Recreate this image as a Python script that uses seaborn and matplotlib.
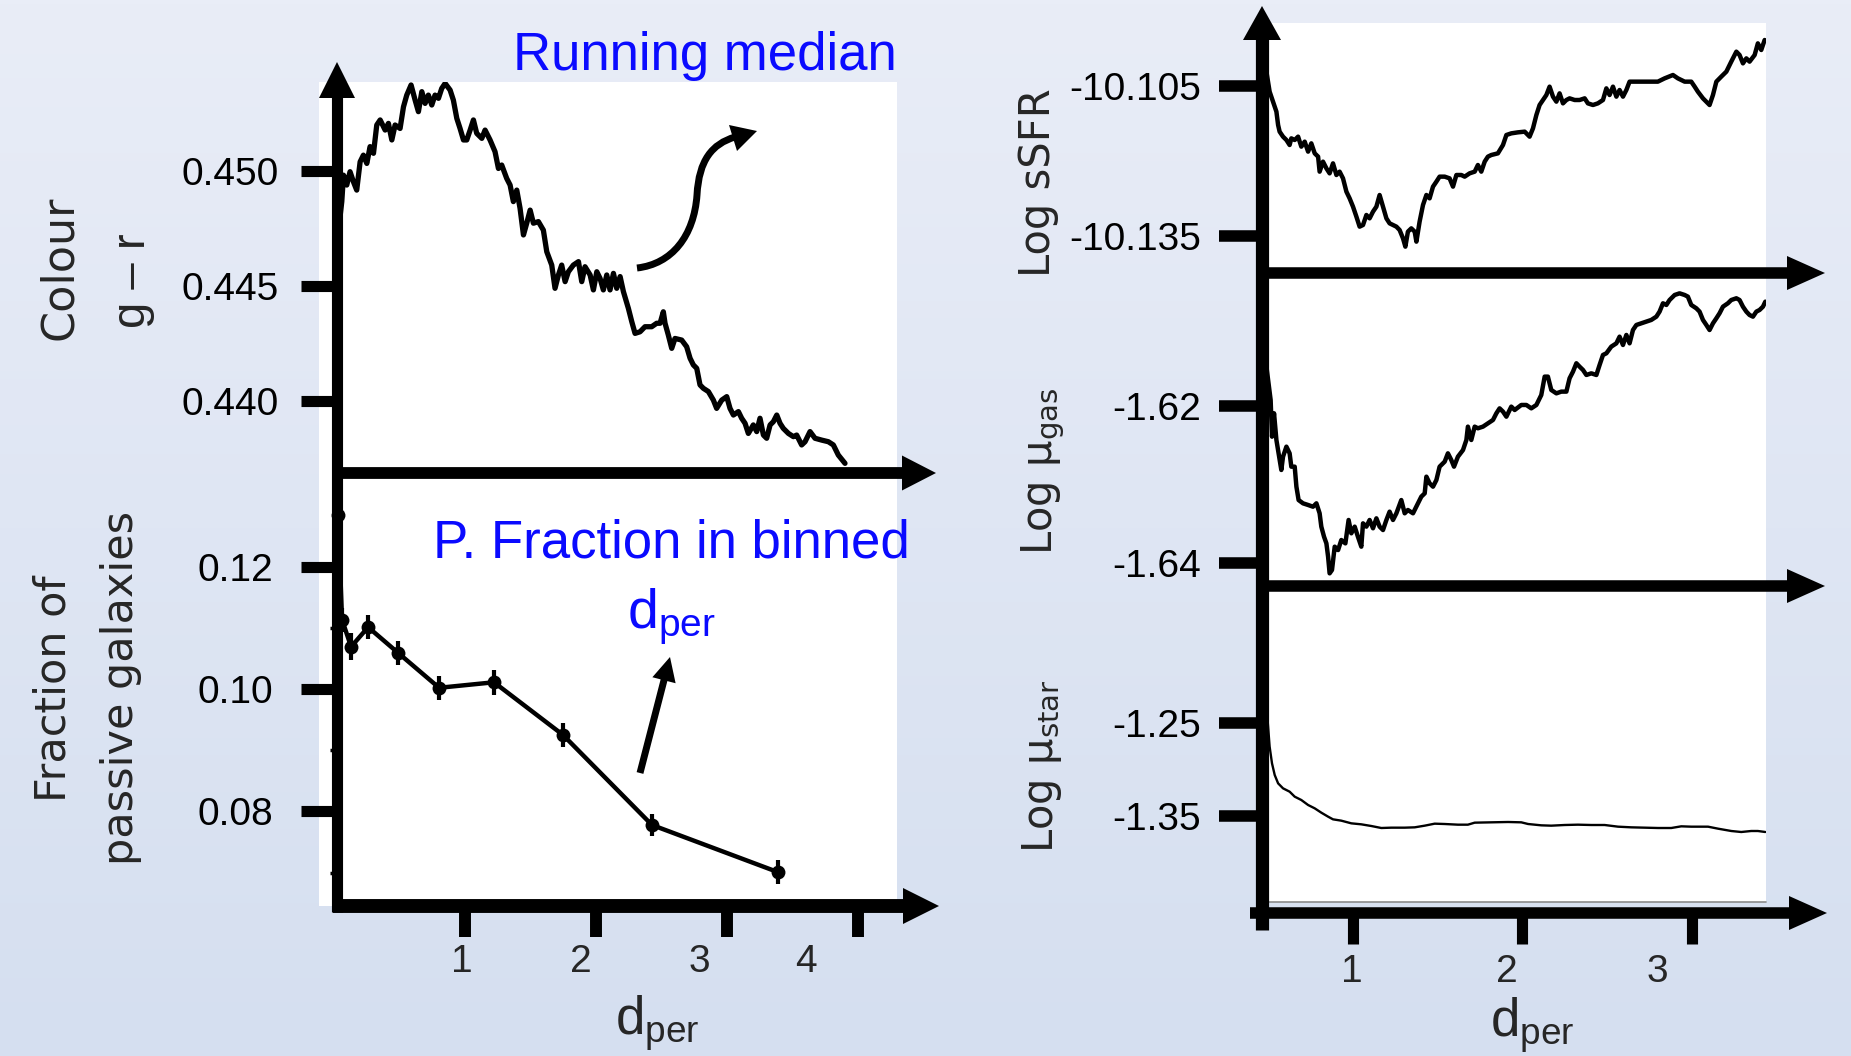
import numpy as np
import matplotlib
matplotlib.use("Agg")
import matplotlib.pyplot as plt
import seaborn as sns
from matplotlib.colors import LinearSegmentedColormap
from matplotlib.lines import Line2D
from matplotlib.patches import Polygon, PathPatch
from matplotlib.path import Path

# ---------------- data ----------------
# running median of g-r colour vs d_per
colour_x = [0.035, 0.059, 0.072, 0.097, 0.122, 0.148, 0.173, 0.199, 0.224, 0.250, 0.275, 0.301,
            0.326, 0.352, 0.390, 0.415, 0.441, 0.466, 0.504, 0.530, 0.555, 0.588, 0.619,
            0.644, 0.670, 0.695, 0.720, 0.746, 0.771, 0.797, 0.822, 0.848, 0.886, 0.911,
            0.937, 0.962, 0.988, 1.013, 1.039, 1.064, 1.089, 1.128, 1.153, 1.191, 1.229,
            1.255, 1.280, 1.318, 1.344, 1.369, 1.395, 1.420, 1.446, 1.471, 1.497, 1.522,
            1.560, 1.598, 1.624, 1.662, 1.687, 1.713, 1.738, 1.764, 1.789, 1.827, 1.866,
            1.891, 1.916, 1.955, 1.980, 2.006, 2.031, 2.056, 2.082, 2.107, 2.133, 2.158,
            2.184, 2.209, 2.247, 2.273, 2.298, 2.336, 2.374, 2.425, 2.463, 2.489, 2.514,
            2.527, 2.552, 2.578, 2.603, 2.654, 2.692, 2.718, 2.743, 2.769, 2.794, 2.820,
            2.858, 2.896, 2.921, 2.960, 2.998, 3.023, 3.049, 3.087, 3.112, 3.138, 3.163,
            3.201, 3.227, 3.252, 3.278, 3.303, 3.329, 3.354, 3.380, 3.405, 3.430, 3.469,
            3.507, 3.532, 3.570, 3.596, 3.634, 3.672, 3.723, 3.774, 3.812, 3.850, 3.901]
colour_y = [0.44745, 0.44865, 0.44980, 0.44937, 0.44995, 0.44951, 0.44915, 0.45038, 0.45067, 0.45031,
            0.45104, 0.45075, 0.45198, 0.45220, 0.45176, 0.45205, 0.45133, 0.45198, 0.45183,
            0.45277, 0.45328, 0.45372, 0.45306, 0.45256, 0.45343, 0.45292, 0.45328, 0.45285,
            0.45328, 0.45314, 0.45357, 0.45379, 0.45350, 0.45306, 0.45227, 0.45183, 0.45133,
            0.45133, 0.45176, 0.45220, 0.45162, 0.45140, 0.45176, 0.45133, 0.45082, 0.45009,
            0.45024, 0.44966, 0.44937, 0.44865, 0.44915, 0.44836, 0.44720, 0.44771, 0.44828,
            0.44771, 0.44778, 0.44741, 0.44647, 0.44589, 0.44488, 0.44546, 0.44589, 0.44517,
            0.44560, 0.44589, 0.44604, 0.44517, 0.44582, 0.44546, 0.44481, 0.44560, 0.44531,
            0.44481, 0.44546, 0.44481, 0.44553, 0.44488, 0.44539, 0.44474, 0.44401, 0.44343,
            0.44292, 0.44299, 0.44321, 0.44321, 0.44336, 0.44336, 0.44386, 0.44336, 0.44285,
            0.44227, 0.44270, 0.44263, 0.44234, 0.44184, 0.44155, 0.44140, 0.44068, 0.44053,
            0.44039, 0.44002, 0.43966, 0.44002, 0.44017, 0.43966, 0.43937, 0.43952, 0.43923,
            0.43901, 0.43857, 0.43894, 0.43865, 0.43923, 0.43850, 0.43836, 0.43894, 0.43908,
            0.43937, 0.43901, 0.43879, 0.43857, 0.43843, 0.43850, 0.43807, 0.43821, 0.43865,
            0.43836, 0.43828, 0.43821, 0.43807, 0.43763, 0.43727]
colour_ticks = [0.440, 0.445, 0.450]

# fraction of passive galaxies in d_per bins
frac_x = [0.031, 0.061, 0.130, 0.260, 0.489, 0.802, 1.221, 1.748, 2.427, 3.389]
frac_y = [0.1284, 0.1113, 0.1069, 0.1101, 0.1059, 0.1002, 0.1011, 0.0925, 0.0778, 0.0701]
frac_err = [0.0015, 0.0020, 0.0022, 0.0020, 0.0020, 0.0020, 0.0020, 0.0020, 0.0018, 0.0020]
frac_ticks = [0.08, 0.10, 0.12]
frac_minor = [0.07, 0.09, 0.11]

# log sSFR running median
ssfr_x = [0.489, 0.508, 0.528, 0.548, 0.558, 0.567, 0.587, 0.607, 0.626, 0.636, 0.656, 0.676,
          0.695, 0.715, 0.735, 0.754, 0.774, 0.794, 0.803, 0.823, 0.843, 0.862, 0.882, 0.902,
          0.921, 0.941, 0.961, 0.980, 1.000, 1.020, 1.039, 1.059, 1.079, 1.098, 1.118, 1.138,
          1.157, 1.177, 1.197, 1.216, 1.236, 1.256, 1.275, 1.295, 1.309, 1.324, 1.344, 1.364,
          1.374, 1.393, 1.413, 1.433, 1.452, 1.472, 1.492, 1.511, 1.541, 1.570, 1.590, 1.610,
          1.639, 1.659, 1.688, 1.718, 1.737, 1.757, 1.777, 1.796, 1.816, 1.855, 1.885, 1.905,
          1.934, 1.973, 2.013, 2.042, 2.062, 2.082, 2.101, 2.121, 2.141, 2.160, 2.180, 2.200,
          2.219, 2.239, 2.259, 2.278, 2.308, 2.337, 2.367, 2.386, 2.416, 2.445, 2.475, 2.495,
          2.514, 2.534, 2.554, 2.573, 2.593, 2.613, 2.632, 2.681, 2.740, 2.799, 2.839, 2.888,
          2.917, 2.957, 2.996, 3.016, 3.035, 3.065, 3.104, 3.124, 3.144, 3.173, 3.203, 3.232,
          3.262, 3.281, 3.301, 3.321, 3.340, 3.370, 3.389, 3.409, 3.429]
ssfr_y = [-10.10213, -10.10613, -10.10813, -10.11013, -10.11280, -10.11413, -10.11513, -10.11580,
          -10.11680, -10.11547, -10.11580, -10.11513, -10.11713, -10.11613, -10.11813, -10.11647,
          -10.11847, -10.11913, -10.12213, -10.12013, -10.12147, -10.12247, -10.12047, -10.12280,
          -10.12213, -10.12347, -10.12613, -10.12747, -10.12913, -10.13113, -10.13313, -10.13280,
          -10.13080, -10.13147, -10.13013, -10.12913, -10.12680, -10.12913, -10.13147, -10.13247,
          -10.13280, -10.13313, -10.13380, -10.13547, -10.13713, -10.13413, -10.13347, -10.13413,
          -10.13613, -10.13213, -10.12880, -10.12680, -10.12747, -10.12513, -10.12413, -10.12313,
          -10.12313, -10.12347, -10.12513, -10.12280, -10.12280, -10.12313, -10.12247, -10.12213,
          -10.12080, -10.12213, -10.12013, -10.11913, -10.11880, -10.11847, -10.11680, -10.11480,
          -10.11447, -10.11427, -10.11413, -10.11513, -10.11347, -10.11080, -10.10880, -10.10780,
          -10.10680, -10.10513, -10.10713, -10.10813, -10.10647, -10.10847, -10.10780, -10.10747,
          -10.10780, -10.10780, -10.10747, -10.10847, -10.10880, -10.10847, -10.10780, -10.10547,
          -10.10680, -10.10513, -10.10713, -10.10580, -10.10713, -10.10580, -10.10413, -10.10413,
          -10.10413, -10.10413, -10.10347, -10.10280, -10.10347, -10.10413, -10.10413, -10.10513,
          -10.10613, -10.10747, -10.10880, -10.10680, -10.10413, -10.10313, -10.10213, -10.10013,
          -10.09813, -10.09880, -10.10047, -10.09947, -10.10013, -10.09880, -10.09647, -10.09780,
          -10.09580]
ssfr_ticks = [-10.135, -10.105]
ssfr_labels = ["-10.135", "-10.105"]

# log mu_gas running median
gas_x = [0.483, 0.499, 0.514, 0.522, 0.534, 0.548, 0.561, 0.577, 0.587, 0.607, 0.626, 0.636,
         0.656, 0.666, 0.679, 0.705, 0.735, 0.764, 0.784, 0.803, 0.813, 0.829, 0.843, 0.853,
         0.862, 0.876, 0.892, 0.912, 0.931, 0.955, 0.974, 0.990, 1.010, 1.029, 1.049, 1.059,
         1.079, 1.098, 1.118, 1.138, 1.157, 1.177, 1.197, 1.216, 1.236, 1.256, 1.285, 1.305,
         1.324, 1.354, 1.383, 1.403, 1.423, 1.433, 1.452, 1.472, 1.492, 1.511, 1.541, 1.560,
         1.580, 1.596, 1.619, 1.649, 1.669, 1.678, 1.698, 1.718, 1.737, 1.767, 1.796, 1.826,
         1.846, 1.865, 1.885, 1.905, 1.934, 1.954, 1.993, 2.023, 2.052, 2.082, 2.111, 2.131,
         2.150, 2.170, 2.200, 2.229, 2.259, 2.278, 2.298, 2.318, 2.337, 2.357, 2.377, 2.406,
         2.436, 2.455, 2.475, 2.495, 2.524, 2.554, 2.573, 2.593, 2.613, 2.632, 2.652, 2.672,
         2.701, 2.731, 2.760, 2.790, 2.809, 2.829, 2.849, 2.868, 2.898, 2.927, 2.957, 2.976,
         2.996, 3.026, 3.045, 3.065, 3.085, 3.104, 3.124, 3.144, 3.163, 3.183, 3.212, 3.232,
         3.262, 3.281, 3.301, 3.321, 3.340, 3.360, 3.380, 3.399, 3.419, 3.433]
gas_y = [-1.61393, -1.61669, -1.61924, -1.62391, -1.62093, -1.62433, -1.62603, -1.62815, -1.62646,
         -1.62518, -1.62603, -1.62773, -1.62773, -1.63028, -1.63198, -1.63240, -1.63261, -1.63283,
         -1.63240, -1.63367, -1.63537, -1.63665, -1.63750, -1.63920, -1.64132, -1.64089, -1.63792,
         -1.63835, -1.63707, -1.63750, -1.63452, -1.63622, -1.63537, -1.63665, -1.63792, -1.63495,
         -1.63537, -1.63452, -1.63558, -1.63431, -1.63537, -1.63580, -1.63452, -1.63346, -1.63452,
         -1.63367, -1.63198, -1.63367, -1.63325, -1.63367, -1.63240, -1.63155, -1.63113, -1.62900,
         -1.62985, -1.63028, -1.62943, -1.62773, -1.62709, -1.62603, -1.62688, -1.62773, -1.62646,
         -1.62561, -1.62433, -1.62263, -1.62433, -1.62263, -1.62284, -1.62263, -1.62221, -1.62178,
         -1.62093, -1.62030, -1.62072, -1.62136, -1.62008, -1.62051, -1.61987, -1.61987, -1.62030,
         -1.61987, -1.61860, -1.61626, -1.61626, -1.61796, -1.61839, -1.61817, -1.61817, -1.61647,
         -1.61563, -1.61456, -1.61499, -1.61541, -1.61605, -1.61584, -1.61605, -1.61478, -1.61350,
         -1.61329, -1.61244, -1.61202, -1.61117, -1.61223, -1.61095, -1.61202, -1.61032, -1.60968,
         -1.60947, -1.60926, -1.60904, -1.60862, -1.60798, -1.60692, -1.60713, -1.60650, -1.60586,
         -1.60565, -1.60586, -1.60607, -1.60713, -1.60756, -1.60798, -1.60904, -1.60968, -1.61032,
         -1.60947, -1.60883, -1.60819, -1.60735, -1.60692, -1.60650, -1.60628, -1.60650, -1.60735,
         -1.60798, -1.60841, -1.60862, -1.60798, -1.60777, -1.60735, -1.60671]
gas_ticks = [-1.64, -1.62]
gas_labels = ["-1.64", "-1.62"]

# log mu_star running median
star_x = [0.489, 0.499, 0.508, 0.522, 0.538, 0.558, 0.587, 0.626, 0.656, 0.695, 0.735, 0.774,
          0.813, 0.853, 0.882, 0.931, 0.990, 1.049, 1.108, 1.167, 1.226, 1.305, 1.364, 1.423,
          1.482, 1.541, 1.619, 1.678, 1.718, 1.816, 1.915, 1.993, 2.033, 2.111, 2.170, 2.249,
          2.327, 2.406, 2.485, 2.564, 2.642, 2.721, 2.800, 2.878, 2.937, 2.996, 3.095, 3.154,
          3.232, 3.291, 3.350, 3.389, 3.433]
star_y = [-1.23064, -1.25395, -1.27545, -1.29337, -1.30592, -1.31488, -1.32025, -1.32384, -1.32922,
          -1.33280, -1.33817, -1.34176, -1.34642, -1.35072, -1.35359, -1.35502, -1.35789, -1.35896,
          -1.36076, -1.36291, -1.36255, -1.36255, -1.36219, -1.36040, -1.35825, -1.35861, -1.35933,
          -1.35933, -1.35717, -1.35681, -1.35645, -1.35681, -1.35861, -1.36004, -1.36040, -1.35968,
          -1.35933, -1.35968, -1.35968, -1.36148, -1.36219, -1.36255, -1.36291, -1.36291, -1.36111,
          -1.36148, -1.36148, -1.36363, -1.36613, -1.36721, -1.36613, -1.36613, -1.36721]
star_ticks = [-1.35, -1.25]
star_labels = ["-1.35", "-1.25"]

left_xtick_labels = ["1", "2", "3", "4"]
right_xtick_labels = ["1", "2", "3"]

# ---------------- figure ----------------
sns.set_theme(style="white")
plt.rcParams["font.family"] = ["Liberation Sans", "DejaVu Sans"]
plt.rcParams["mathtext.default"] = "regular"

W, H = 1851, 1056
fig = plt.figure(figsize=(W / 100, H / 100), dpi=100)
BLUE = "#0a0aff"
SANS = ["Liberation Sans", "DejaVu Sans"]
ROUND = ["DejaVu Sans"]


def P(x, y):
    # pixel position (origin top-left) -> figure fraction
    return x / W, 1 - y / H


def axes_at(x0, y0, x1, y1):
    return fig.add_axes([x0 / W, 1 - y1 / H, (x1 - x0) / W, (y1 - y0) / H])


def arrow(x0, y0, x1, y1, lw, hl, hw):
    # thick axis line with a filled triangular head, in pixels
    L = np.hypot(x1 - x0, y1 - y0)
    ux, uy = (x1 - x0) / L, (y1 - y0) / L
    bx, by = x1 - ux * hl, y1 - uy * hl
    a, b = P(x0, y0), P(bx + ux * 3, by + uy * 3)
    fig.add_artist(Line2D([a[0], b[0]], [a[1], b[1]], transform=fig.transFigure,
                          lw=lw, color="black", solid_capstyle="butt", zorder=5))
    px, py = -uy, ux
    tri = [P(x1, y1), P(bx + px * hw / 2, by + py * hw / 2), P(bx - px * hw / 2, by - py * hw / 2)]
    fig.add_artist(Polygon(tri, closed=True, transform=fig.transFigure,
                           facecolor="black", edgecolor="none", zorder=5))


def style_axes(ax):
    for s in ax.spines.values():
        s.set_visible(False)
    ax.set_xlabel("")
    ax.set_ylabel("")
    ax.set_facecolor("white")


# background gradient
bg = fig.add_axes([0, 0, 1, 1])
bg.set_zorder(-10)
grad = np.linspace(0, 1, 256).reshape(-1, 1)
bg.imshow(grad, aspect="auto", extent=[0, 1, 0, 1],
          cmap=LinearSegmentedColormap.from_list("bg", ["#e9edf7", "#d5dff0"]))
bg.axis("off")

# ---- top left: colour running median ----
ax_c = axes_at(319, 82, 897, 473)
sns.lineplot(x=colour_x, y=colour_y, ax=ax_c, color="black", linewidth=3.8,
             sort=False, estimator=None)
style_axes(ax_c)
ax_c.set_xlim(-0.115, 4.298)
ax_c.set_ylim(0.43685, 0.45385)
ax_c.spines["left"].set_position(("data", 0.023))
ax_c.set_yticks(colour_ticks)
ax_c.set_yticklabels(["0.440", "0.445", "0.450"])
ax_c.tick_params(axis="y", left=True, direction="out", length=26, width=8, pad=16,
                 labelsize=28, color="black", labelcolor="black")
ax_c.set_xticks([1, 2, 3, 4])
ax_c.set_xticklabels([])
ax_c.tick_params(axis="x", bottom=True, direction="out", length=9, width=2.5, color="black")

# ---- bottom left: passive fraction ----
ax_f = axes_at(319, 473, 897, 906)
sns.lineplot(x=frac_x, y=frac_y, ax=ax_f, color="black", linewidth=3.2, marker="o",
             markersize=10, markeredgewidth=0, sort=False, estimator=None)
ax_f.errorbar(frac_x, frac_y, yerr=frac_err, fmt="none", ecolor="black", elinewidth=3, capsize=0)
style_axes(ax_f)
ax_f.set_xlim(-0.115, 4.298)
ax_f.set_ylim(0.06457, 0.13527)
ax_f.spines["left"].set_position(("data", 0.023))
ax_f.set_yticks(frac_ticks)
ax_f.set_yticklabels(["0.08", "0.10", "0.12"])
ax_f.set_yticks(frac_minor, minor=True)
ax_f.tick_params(axis="y", which="major", left=True, direction="out", length=26, width=8,
                 pad=20, labelsize=28, color="black", labelcolor="black")
ax_f.tick_params(axis="y", which="minor", left=True, direction="out", length=5, width=2.5,
                 color="black")
ax_f.set_xticks([1, 2, 3, 4])
ax_f.set_xticklabels([])
ax_f.tick_params(axis="x", bottom=True, direction="out", length=22, width=8.6, color="black")

# ---- right column ----
right_boxes = [(23, 273), (273, 586), (586, 902)]
right_series = [(ssfr_x, ssfr_y, 3.2), (gas_x, gas_y, 3.2), (star_x, star_y, 1.7)]
right_ylims = [(-10.1424, -10.0924), (-1.64293, -1.60306), (-1.44248, -1.10268)]
right_ticks = [(ssfr_ticks, ssfr_labels), (gas_ticks, gas_labels), (star_ticks, star_labels)]
right_axes = []
for (y0, y1), (xs, ys, lw), lim, (tk, tl) in zip(right_boxes, right_series, right_ylims, right_ticks):
    ax = axes_at(1262, y0, 1766, y1)
    sns.lineplot(x=xs, y=ys, ax=ax, color="black", linewidth=lw, sort=False, estimator=None)
    style_axes(ax)
    ax.set_xlim(0.463, 3.437)
    ax.set_ylim(*lim)
    ax.set_yticks(tk)
    ax.set_yticklabels(tl)
    ax.tick_params(axis="y", left=True, direction="out", length=31, width=8.3, pad=13,
                   labelsize=28, color="black", labelcolor="black")
    right_axes.append(ax)

for ax in right_axes[:2]:
    ax.set_xticks([1, 1.5, 2, 2.5, 3])
    ax.set_xticklabels([])
    ax.tick_params(axis="x", bottom=True, direction="out", length=9, width=2.5, color="black")

ax_m = right_axes[2]
ax_m.spines["bottom"].set_position(("outward", 8))
ax_m.set_xticks([1, 2, 3])
ax_m.set_xticklabels([])
ax_m.tick_params(axis="x", bottom=True, direction="out", length=22, width=8, color="black")
ax_m.axhline(right_ylims[2][0], color="#8a8a8a", lw=1.2, clip_on=False)

# ---- axis arrows ----
arrow(337, 912, 337, 62, 8, 36, 36)
arrow(333, 473, 936, 473, 8.5, 34, 35)
arrow(333, 906, 939, 906, 10, 36, 36)
arrow(1262, 930, 1262, 6, 9.5, 34, 38)
arrow(1268, 273, 1825, 273, 8.3, 38, 34)
arrow(1268, 586, 1825, 586, 8.3, 38, 34)
arrow(1250, 913, 1827, 913, 8.3, 38, 34)

# ---- annotation arrows ----
verts = [P(637, 268), P(672, 264), P(694, 236), P(697, 195),
         P(699, 160), P(712, 144), P(735, 137)]
codes = [Path.MOVETO, Path.CURVE4, Path.CURVE4, Path.CURVE4, Path.CURVE4, Path.CURVE4, Path.CURVE4]
fig.add_artist(PathPatch(Path(verts, codes), fill=False, lw=5, edgecolor="black",
                         transform=fig.transFigure, capstyle="butt", zorder=6))
fig.add_artist(Polygon([P(757, 131), P(729, 125), P(737, 151)], closed=True,
                       transform=fig.transFigure, facecolor="black", edgecolor="none", zorder=6))
arrow(640, 773, 670, 657, 5, 24, 24)

# ---- texts ----
fig.text(*P(897, 70), "Running median", color=BLUE, fontsize=38, family=SANS,
         ha="right", va="baseline")
fig.text(*P(671, 558), "P. Fraction in binned", color=BLUE, fontsize=38, family=SANS,
         ha="center", va="baseline")
fig.text(*P(671, 628), "d$_{per}$", color=BLUE, fontsize=40, family=SANS,
         ha="center", va="baseline")

fig.text(*P(59, 268), "Colour", fontsize=32, family=ROUND, rotation=90, ha="center", va="center")
fig.text(*P(133, 281), "g – r", fontsize=34, family=SANS, rotation=90, ha="center", va="center")
fig.text(*P(53, 689), "Fraction of", fontsize=31, family=ROUND, rotation=90,
         ha="center", va="center")
fig.text(*P(121, 688), "passive galaxies", fontsize=31, family=ROUND, rotation=90,
         ha="center", va="center")
fig.text(*P(1038, 183), "Log sSFR", fontsize=30, family=ROUND, rotation=90,
         ha="center", va="center")
fig.text(*P(1043, 471), "Log μ$_{gas}$", fontsize=30, family=ROUND, rotation=90,
         ha="center", va="center")
fig.text(*P(1042, 766), "Log μ$_{star}$", fontsize=30, family=ROUND, rotation=90,
         ha="center", va="center")

for lab, x in zip(left_xtick_labels, [462, 581, 699, 806]):
    fig.text(*P(x, 962), lab, fontsize=28, family=SANS, ha="center", va="center")
for lab, x in zip(right_xtick_labels, [1352, 1507, 1657]):
    fig.text(*P(x, 972), lab, fontsize=28, family=SANS, ha="center", va="center")
fig.text(*P(657, 1035), "d$_{per}$", fontsize=38, family=SANS, ha="center", va="baseline")
fig.text(*P(1532, 1037), "d$_{per}$", fontsize=38, family=SANS, ha="center", va="baseline")

fig.savefig("out.png", dpi=100)
